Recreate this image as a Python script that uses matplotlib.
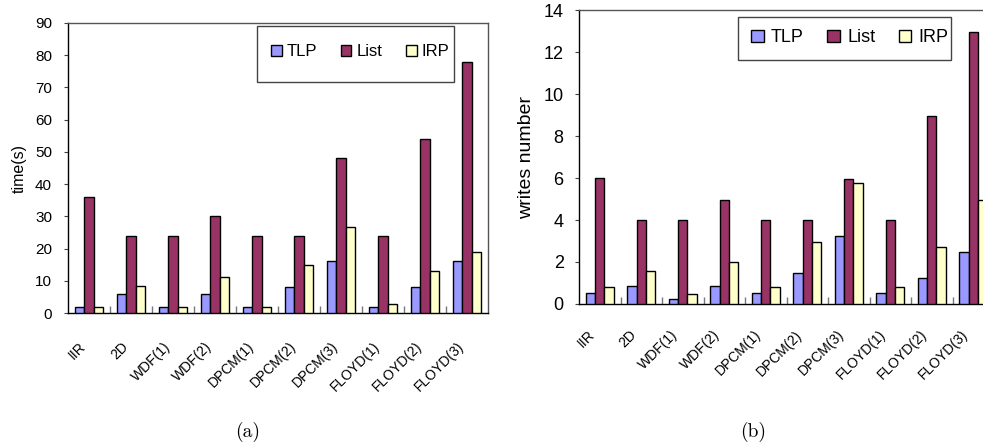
import matplotlib
matplotlib.use("Agg")
import matplotlib.pyplot as plt
import matplotlib.transforms as mtransforms
import numpy as np
from matplotlib.patches import Rectangle, Patch

plt.rcParams['font.family'] = ['Liberation Sans', 'DejaVu Sans']

categories = ["IIR", "2D", "WDF(1)", "WDF(2)", "DPCM(1)", "DPCM(2)", "DPCM(3)",
              "FLOYD(1)", "FLOYD(2)", "FLOYD(3)"]
series_names = ["TLP", "List", "IRP"]
colors = ["#9999FF", "#993366", "#FFFFCC"]

time_tlp = [2, 6, 2, 6, 2, 8, 16, 2, 8, 16]
time_list = [36, 24, 24, 30, 24, 24, 48, 24, 54, 78]
time_irp = [2, 8.5, 2, 11.2, 2, 14.8, 26.8, 2.7, 13, 18.8]

writes_tlp = [0.54, 0.87, 0.25, 0.87, 0.54, 1.49, 3.22, 0.54, 1.24, 2.46]
writes_list = [6, 4, 4, 4.95, 4, 4, 5.97, 4, 8.94, 12.94]
writes_irp = [0.83, 1.57, 0.48, 2.0, 0.83, 2.95, 5.78, 0.83, 2.73, 4.95]

W, H = 983, 448
fig = plt.figure(figsize=(W / 100, H / 100), dpi=100)


def fx(px):
    return px / W


def fy(py):
    return (H - py) / H


def draw(ax, data, ylim, ystep, ylabel, fs_tick, fs_xt, fs_lab, ypad, labelpad,
         xpad, xshift):
    x = np.arange(len(categories))
    bw = 0.222
    for i, (vals, c) in enumerate(zip(data, colors)):
        ax.bar(x + (i - 1) * bw, vals, bw, color=c, edgecolor="black",
               linewidth=1.0, zorder=3)
    ax.set_xlim(-0.5, len(categories) - 0.5)
    ax.set_ylim(*ylim)
    ax.set_yticks(np.arange(ylim[0], ylim[1] + 0.01, ystep))
    ax.tick_params(axis="y", direction="out", length=3, width=0.8,
                   labelsize=fs_tick, pad=ypad, color="#444444")
    ax.set_xticks(x)
    ax.set_xticklabels(categories, rotation=45, ha="right",
                       rotation_mode="anchor", fontsize=fs_xt)
    ax.tick_params(axis="x", which="major", length=0, pad=xpad)
    off = mtransforms.ScaledTranslation(xshift / 100, 0, fig.dpi_scale_trans)
    for lab in ax.get_xticklabels():
        lab.set_transform(lab.get_transform() + off)
    ax.set_xticks(np.arange(0.5, len(categories) - 0.5, 1), minor=True)
    ax.tick_params(axis="x", which="minor", direction="in", length=5,
                   width=1.0, color="#777777")
    ax.set_ylabel(ylabel, fontsize=fs_lab, labelpad=labelpad)
    for s in ["top", "right"]:
        ax.spines[s].set_color("#555555")
    for s in ["left", "bottom"]:
        ax.spines[s].set_color("black")
    for s in ax.spines.values():
        s.set_linewidth(1.0)


ax1 = fig.add_axes([fx(68), fy(313), fx(420), (313 - 23) / H])
draw(ax1, [time_tlp, time_list, time_irp], (0, 90), 10, "time(s)",
     11, 10, 11.5, 8.5, 6, 19, -10)

ax2 = fig.add_axes([fx(579), fy(304), fx(415), (304 - 10) / H])
draw(ax2, [writes_tlp, writes_list, writes_irp], (0, 14), 2, "writes number",
     13, 10, 14, 8, 6, 17, -12)

# legend frames
fig.patches.append(Rectangle((fx(257), fy(82)), fx(197), (82 - 26) / H,
                             transform=fig.transFigure, fill=False,
                             edgecolor="#444444", linewidth=1.0))
fig.patches.append(Rectangle((fx(738), fy(60)), fx(213), (60 - 17) / H,
                             transform=fig.transFigure, fill=False,
                             edgecolor="#444444", linewidth=1.0))

handles = [Patch(facecolor=c, edgecolor="black", linewidth=1.0) for c in colors]
fig.legend(handles, series_names, loc="center left", ncol=3,
           bbox_to_anchor=(fx(271), fy(52)), bbox_transform=fig.transFigure,
           frameon=False, fontsize=12, handlelength=0.65, handleheight=0.65,
           handletextpad=0.3, columnspacing=1.4, borderpad=0, borderaxespad=0)
fig.legend(handles, series_names, loc="center left", ncol=3,
           bbox_to_anchor=(fx(751), fy(38)), bbox_transform=fig.transFigure,
           frameon=False, fontsize=13, handlelength=0.7, handleheight=0.7,
           handletextpad=0.4, columnspacing=1.3, borderpad=0, borderaxespad=0)

fig.text(fx(248), fy(432), "(a)", ha="center", va="center", fontsize=14,
         family=["cmr10", "DejaVu Serif"])
fig.text(fx(753), fy(432), "(b)", ha="center", va="center", fontsize=14,
         family=["cmr10", "DejaVu Serif"])

fig.savefig("out.png", dpi=100)
